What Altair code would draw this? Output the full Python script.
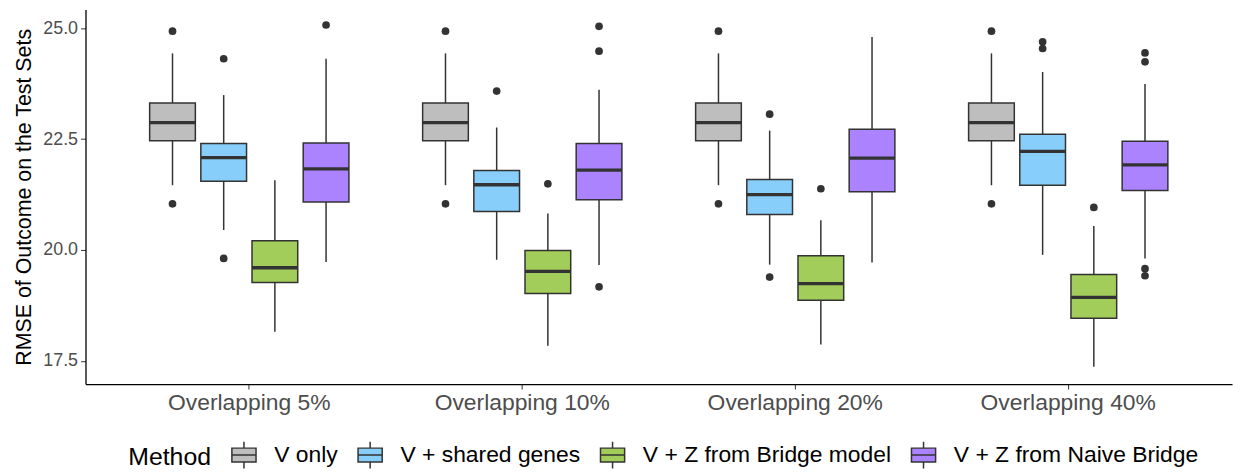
import altair as alt
import pandas as pd

groups = ["Overlapping 5%", "Overlapping 10%", "Overlapping 20%", "Overlapping 40%"]
methods = ["V only", "V + shared genes", "V + Z from Bridge model", "V + Z from Naive Bridge"]
colors = ["#BEBEBE", "#87CEFA", "#A2CD5A", "#AB82FF"]

# box statistics per group (5%, 10%, 20%, 40%)
# each entry: [lower whisker, Q1, median, Q3, upper whisker]
stats_v_only = [
    [21.46, 22.46, 22.87, 23.31, 24.43],
    [21.46, 22.46, 22.87, 23.31, 24.43],
    [21.46, 22.46, 22.87, 23.31, 24.43],
    [21.46, 22.46, 22.87, 23.31, 24.43],
]
stats_shared = [
    [20.45, 21.55, 22.08, 22.40, 23.49],
    [19.78, 20.87, 21.47, 21.79, 22.76],
    [19.67, 20.80, 21.25, 21.59, 22.69],
    [19.89, 21.46, 22.22, 22.61, 24.01],
]
stats_bridge = [
    [18.16, 19.27, 19.60, 20.21, 21.57],
    [17.84, 19.02, 19.52, 19.99, 20.82],
    [17.87, 18.87, 19.24, 19.87, 20.67],
    [17.37, 18.46, 18.93, 19.45, 20.54],
]
stats_naive = [
    [19.73, 21.08, 21.83, 22.41, 24.31],
    [19.66, 21.13, 21.80, 22.40, 23.61],
    [19.72, 21.31, 22.07, 22.72, 24.80],
    [19.81, 21.34, 21.92, 22.45, 23.74],
]

# outliers per method, one list per group (5%, 10%, 20%, 40%)
out_v_only = [[24.93, 21.04], [24.93, 21.04], [24.93, 21.04], [24.93, 21.04]]
out_shared = [[24.31, 19.81], [23.58], [23.06, 19.39], [24.69, 24.54]]
out_bridge = [[], [21.49], [21.38], [20.96]]
out_naive = [[25.07], [25.04, 24.48, 19.17], [], [24.44, 24.24, 19.58, 19.42]]

rows = []
out_rows = []
for m, st, ou in zip(methods,
                     [stats_v_only, stats_shared, stats_bridge, stats_naive],
                     [out_v_only, out_shared, out_bridge, out_naive]):
    for g, s, o in zip(groups, st, ou):
        rows.append({"group": g, "method": m, "lower": s[0], "q1": s[1],
                     "median": s[2], "q3": s[3], "upper": s[4]})
        for v in o:
            out_rows.append({"group": g, "method": m, "value": v})
box_df = pd.DataFrame(rows)
out_df = pd.DataFrame(out_rows)

FONT = "Liberation Sans"
DARK = "#333333"

x_enc = alt.X("group:N", sort=groups,
              scale=alt.Scale(domain=groups, paddingInner=0.25, paddingOuter=0.225),
              axis=alt.Axis(title=None, labelFontSize=23, labelColor="#4D4D4D",
                            labelPadding=3, tickSize=5, tickColor=DARK, domainColor="black",
                            domainWidth=1.3, labelAngle=0, labelLimit=0))
xo_enc = alt.XOffset("method:N", sort=methods,
                     scale=alt.Scale(domain=methods, paddingInner=0.107, paddingOuter=0.0535))
y_scale = alt.Scale(domain=[16.979, 25.419], nice=False, zero=False)
y_axis = alt.Axis(values=[17.5, 20.0, 22.5, 25.0], format=".1f",
                  title="RMSE of Outcome on the Test Sets", titleFontSize=21.5,
                  titleColor="black", titleFontWeight="normal", titlePadding=7,
                  labelFontSize=18, labelColor="#4D4D4D", labelPadding=3,
                  tickSize=5, tickColor=DARK, domainColor="black", domainWidth=1.3,
                  grid=False)

base = alt.Chart(box_df)

whisk = base.mark_rule(color=DARK, strokeWidth=1.5).encode(
    x=x_enc, xOffset=xo_enc,
    y=alt.Y("lower:Q", scale=y_scale, axis=y_axis),
    y2="upper:Q",
)

boxes = base.mark_bar(stroke=DARK, strokeWidth=1.5, opacity=1).encode(
    x=x_enc, xOffset=xo_enc,
    y=alt.Y("q1:Q", scale=y_scale, axis=y_axis),
    y2="q3:Q",
    fill=alt.Fill("method:N", sort=methods,
                  scale=alt.Scale(domain=methods, range=colors),
                  legend=alt.Legend(title="Method")),
)

medians = base.mark_tick(color=DARK, thickness=3.3, size=46, orient="horizontal",
                         opacity=1).encode(
    x=x_enc, xOffset=xo_enc,
    y=alt.Y("median:Q", scale=y_scale, axis=y_axis),
)

outliers = alt.Chart(out_df).mark_circle(color=DARK, size=60, opacity=1).encode(
    x=x_enc, xOffset=xo_enc,
    y=alt.Y("value:Q", scale=y_scale, axis=y_axis),
)

symbol_path = "M-0.9,-0.52H0.9V0.52H-0.9Z M-0.9,0H0.9 M0,-0.52V-1 M0,0.52V1"

chart = alt.layer(whisk, boxes, medians, outliers).properties(
    width=1154, height=377,
    autosize=alt.AutoSizeParams(type="none"),
    padding={"left": 78, "top": 0, "right": 3, "bottom": 89},
).configure_view(stroke=None).configure_axis(
    labelFont=FONT, titleFont=FONT, grid=False
).configure_legend(
    orient="none", legendX=43, legendY=434, direction="horizontal",
    titleOrient="left", titleFont=FONT, titleFontSize=25, titleColor="black",
    titleFontWeight="normal", titlePadding=18, titleBaseline="middle",
    labelFont=FONT, labelFontSize=23, labelColor="black", labelOffset=16,
    labelLimit=0, columnPadding=17, symbolType=symbol_path, symbolSize=729,
    symbolStrokeColor=DARK, symbolStrokeWidth=1.5, symbolOpacity=1,
)

chart.save("out.html", embed_options={"renderer": "svg", "actions": False})
